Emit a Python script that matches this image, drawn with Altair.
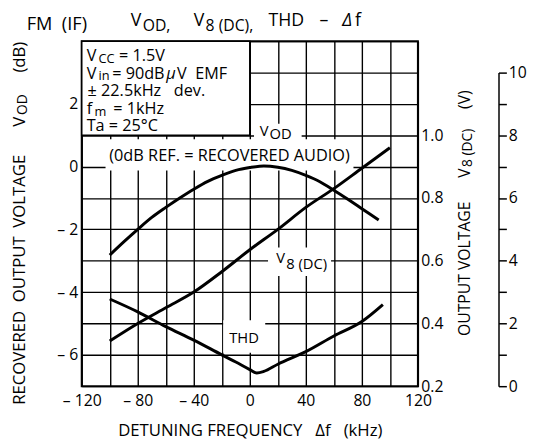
import altair as alt
import pandas as pd

FONT = "Open Sans"

# ---------------- data ----------------
vod_freq = [-100, -90, -80, -70, -60, -50, -40, -30, -20, -10, 0, 10, 20, 30, 40, 50, 60, 70, 80, 92]
vod_db = [-2.82, -2.40, -2.00, -1.62, -1.30, -1.00, -0.72, -0.47, -0.28, -0.12, -0.03, 0.02,
          -0.02, -0.12, -0.28, -0.48, -0.75, -1.04, -1.34, -1.70]

v8_freq = [-100, -80, -60, -40, -20, 0, 20, 40, 60, 80, 100]
v8_volt = [0.344, 0.40, 0.45, 0.50, 0.565, 0.635, 0.70, 0.77, 0.83, 0.895, 0.96]

thd_freq = [-100, -80, -60, -40, -20, -10, 0, 5, 10, 20, 40, 60, 80, 95]
thd_pct = [2.78, 2.37, 1.90, 1.47, 1.00, 0.77, 0.53, 0.42, 0.47, 0.70, 1.10, 1.60, 2.06, 2.60]

x_ticks = list(range(-120, 121, 20))
db_ticks = list(range(-7, 5))
v8_ticks = [0.2, 0.4, 0.6, 0.8, 1.0]
thd_ticks = list(range(0, 11))

# ---------------- layout ----------------
W, H = 342, 351
PAD = {"left": 75, "top": 30, "right": 112, "bottom": 51}
OX, OY = 8 + PAD["left"], 8 + PAD["top"]

xscale = alt.Scale(domain=[-120, 120], nice=False, zero=False)
dbscale = alt.Scale(domain=[-7, 4], nice=False, zero=False)
v8scale = alt.Scale(domain=[0.2, 1.3], nice=False, zero=False)
thdscale = alt.Scale(domain=[0, 10], range=[H, H / 11.0], nice=False, zero=False)

vod_df = pd.DataFrame({"f": vod_freq, "db": vod_db})
v8_df = pd.DataFrame({"f": v8_freq, "v": v8_volt})
thd_df = pd.DataFrame({"f": thd_freq, "thd": thd_pct})
one = pd.DataFrame({"k": [0]})

NB = "\u00a0"

x_axis = alt.Axis(
    values=x_ticks, grid=True, ticks=False, domain=False, labelFlush=False, labelOverlap=False,
    labelExpr="datum.value % 40 != 0 ? '' : (datum.value < 0 ? '\u2013 ' + (-datum.value) : '' + datum.value)",
    labelPadding=7, title="DETUNING" + NB + "FREQUENCY" + NB * 3 + "\u0394f" + NB * 3 + "(kHz)",
    titlePadding=14, titleFontSize=17, titleFontWeight="normal",
)
db_axis = alt.Axis(
    values=db_ticks, grid=True, ticks=False, domain=False, labelOverlap=False,
    labelExpr="(datum.value % 2 != 0 || datum.value > 2) ? '' : (datum.value < 0 ? '\u2013 ' + (-datum.value) : '' + datum.value)",
    labelPadding=4, title="",
)
v8_axis = alt.Axis(
    values=v8_ticks, orient="right", grid=False, ticks=False, domain=False, labelOverlap=False,
    format=".1f", labelPadding=3, title="",
)
thd_axis = alt.Axis(
    values=thd_ticks, orient="right", offset=82, grid=False, ticks=True, tickSize=8, tickWidth=1.5,
    domain=True, domainWidth=1.5, labelOverlap=False,
    labelExpr="datum.value % 2 != 0 ? '' : '' + datum.value", labelPadding=2, title="",
)

X = lambda: alt.X("f:Q", scale=xscale, axis=x_axis)
Ydb = lambda: alt.Y("db:Q", scale=dbscale, axis=db_axis)

# conditions box (top-left) and white backgrounds behind labels
cond_box = alt.Chart(pd.DataFrame({"f": [-120], "f2": [0], "db": [4], "db2": [1]})).mark_rect(
    fill="white", stroke="black", strokeWidth=1.6
).encode(x=X(), x2="f2", y=Ydb(), y2="db2")

masks = alt.Chart(pd.DataFrame({
    "f": [3, -103, 13, -19], "f2": [37, 74, 58, 11],
    "db": [1.37, 0.87, -2.58, -4.9], "db2": [0.80, -0.12, -3.49, -5.93],
})).mark_rect(fill="white").encode(x=X(), x2="f2", y=Ydb(), y2="db2")

vod_line = alt.Chart(vod_df).mark_line(color="black", strokeWidth=3, interpolate="monotone").encode(
    x=X(), y=Ydb()
)


def piece(s, px, py, size, angle=0, baseline="alphabetic", style="normal"):
    kw = dict(text=s, font=FONT, fontSize=size, color="black", align="left",
              baseline=baseline, fontStyle=style)
    if angle:
        kw["angle"] = angle
    return alt.Chart(one).mark_text(**kw).encode(x=alt.value(px - OX), y=alt.value(py - OY))


texts = [
    # title
    piece("FM" + NB * 2 + "(IF)", 27, 27, 18.5),
    piece("V", 133, 23, 18),
    piece("OD,", 145, 28, 16),
    piece("V", 197, 23, 18),
    piece("8" + NB + "(DC),", 209, 28, 16),
    piece("THD", 273, 23, 18),
    piece("\u2013", 325, 23, 18),
    piece("\u0394", 348, 23, 18, style="italic"),
    piece("f", 361, 23, 18),
    # conditions box
    piece("V", 88, 58, 16.5), piece("CC", 100, 60, 13), piece("= 1.5V", 121, 58, 16.5),
    piece("V", 88, 76, 16.5), piece("in", 100, 78, 13), piece("= 90dB", 114, 76, 16.5),
    piece("\u03bc", 169, 76, 16.5, style="italic"), piece("V" + NB * 2 + "EMF", 180, 76, 16.5),
    piece("\u00b1 22.5kHz" + NB * 3 + "dev.", 89, 94, 16.5),
    piece("f", 88, 112, 16.5), piece("m", 96, 114, 13), piece("= 1kHz", 115, 112, 16.5),
    piece("Ta = 25\u00b0C", 88, 129, 16.5),
    # in-plot labels
    piece("V", 264, 134, 15), piece("OD", 274, 138, 15),
    piece("(0dB" + NB + "REF. = RECOVERED" + NB + "AUDIO)", 111, 160, 16.6),
    piece("V", 281, 264, 15), piece("8" + NB + "(DC)", 291, 270, 15),
    piece("THD", 233, 345, 15),
    # left axis title
    piece("RECOVERED" + NB * 2 + "OUTPUT" + NB * 2 + "VOLTAGE", 20, 408, 17, angle=270, baseline="middle"),
    piece("V", 20, 125, 17, angle=270, baseline="middle"),
    piece("OD", 23, 113, 14, angle=270, baseline="middle"),
    piece("(dB)", 20, 70, 17, angle=270, baseline="middle"),
    # right axis title
    piece("OUTPUT" + NB + "VOLTAGE", 473, 338, 16, angle=270, baseline="middle"),
    piece("V", 473, 177, 16, angle=270, baseline="middle"),
    piece("8" + NB + "(DC)", 476, 166, 14, angle=270, baseline="middle"),
    piece("(V)", 473, 107, 16, angle=270, baseline="middle"),
]

db_group = alt.layer(cond_box, masks, vod_line, *texts)

v8_line = alt.Chart(v8_df).mark_line(color="black", strokeWidth=3, interpolate="monotone").encode(
    x=X(), y=alt.Y("v:Q", scale=v8scale, axis=v8_axis),
)
thd_line = alt.Chart(thd_df).mark_line(color="black", strokeWidth=3, interpolate="monotone").encode(
    x=X(), y=alt.Y("thd:Q", scale=thdscale, axis=thd_axis),
)

chart = alt.layer(db_group, v8_line, thd_line).resolve_scale(y="independent").properties(
    width=W, height=H, autosize=alt.AutoSizeParams(type="none"), padding=PAD, background="white",
).configure_view(stroke="black", strokeWidth=2).configure_axis(
    labelFont=FONT, labelFontSize=16, labelColor="black", titleFont=FONT, titleColor="black",
    gridColor="black", gridWidth=1.4, gridOpacity=1, domainColor="black", tickColor="black",
)

chart.save("out.html", embed_options={"renderer": "svg", "actions": False})
